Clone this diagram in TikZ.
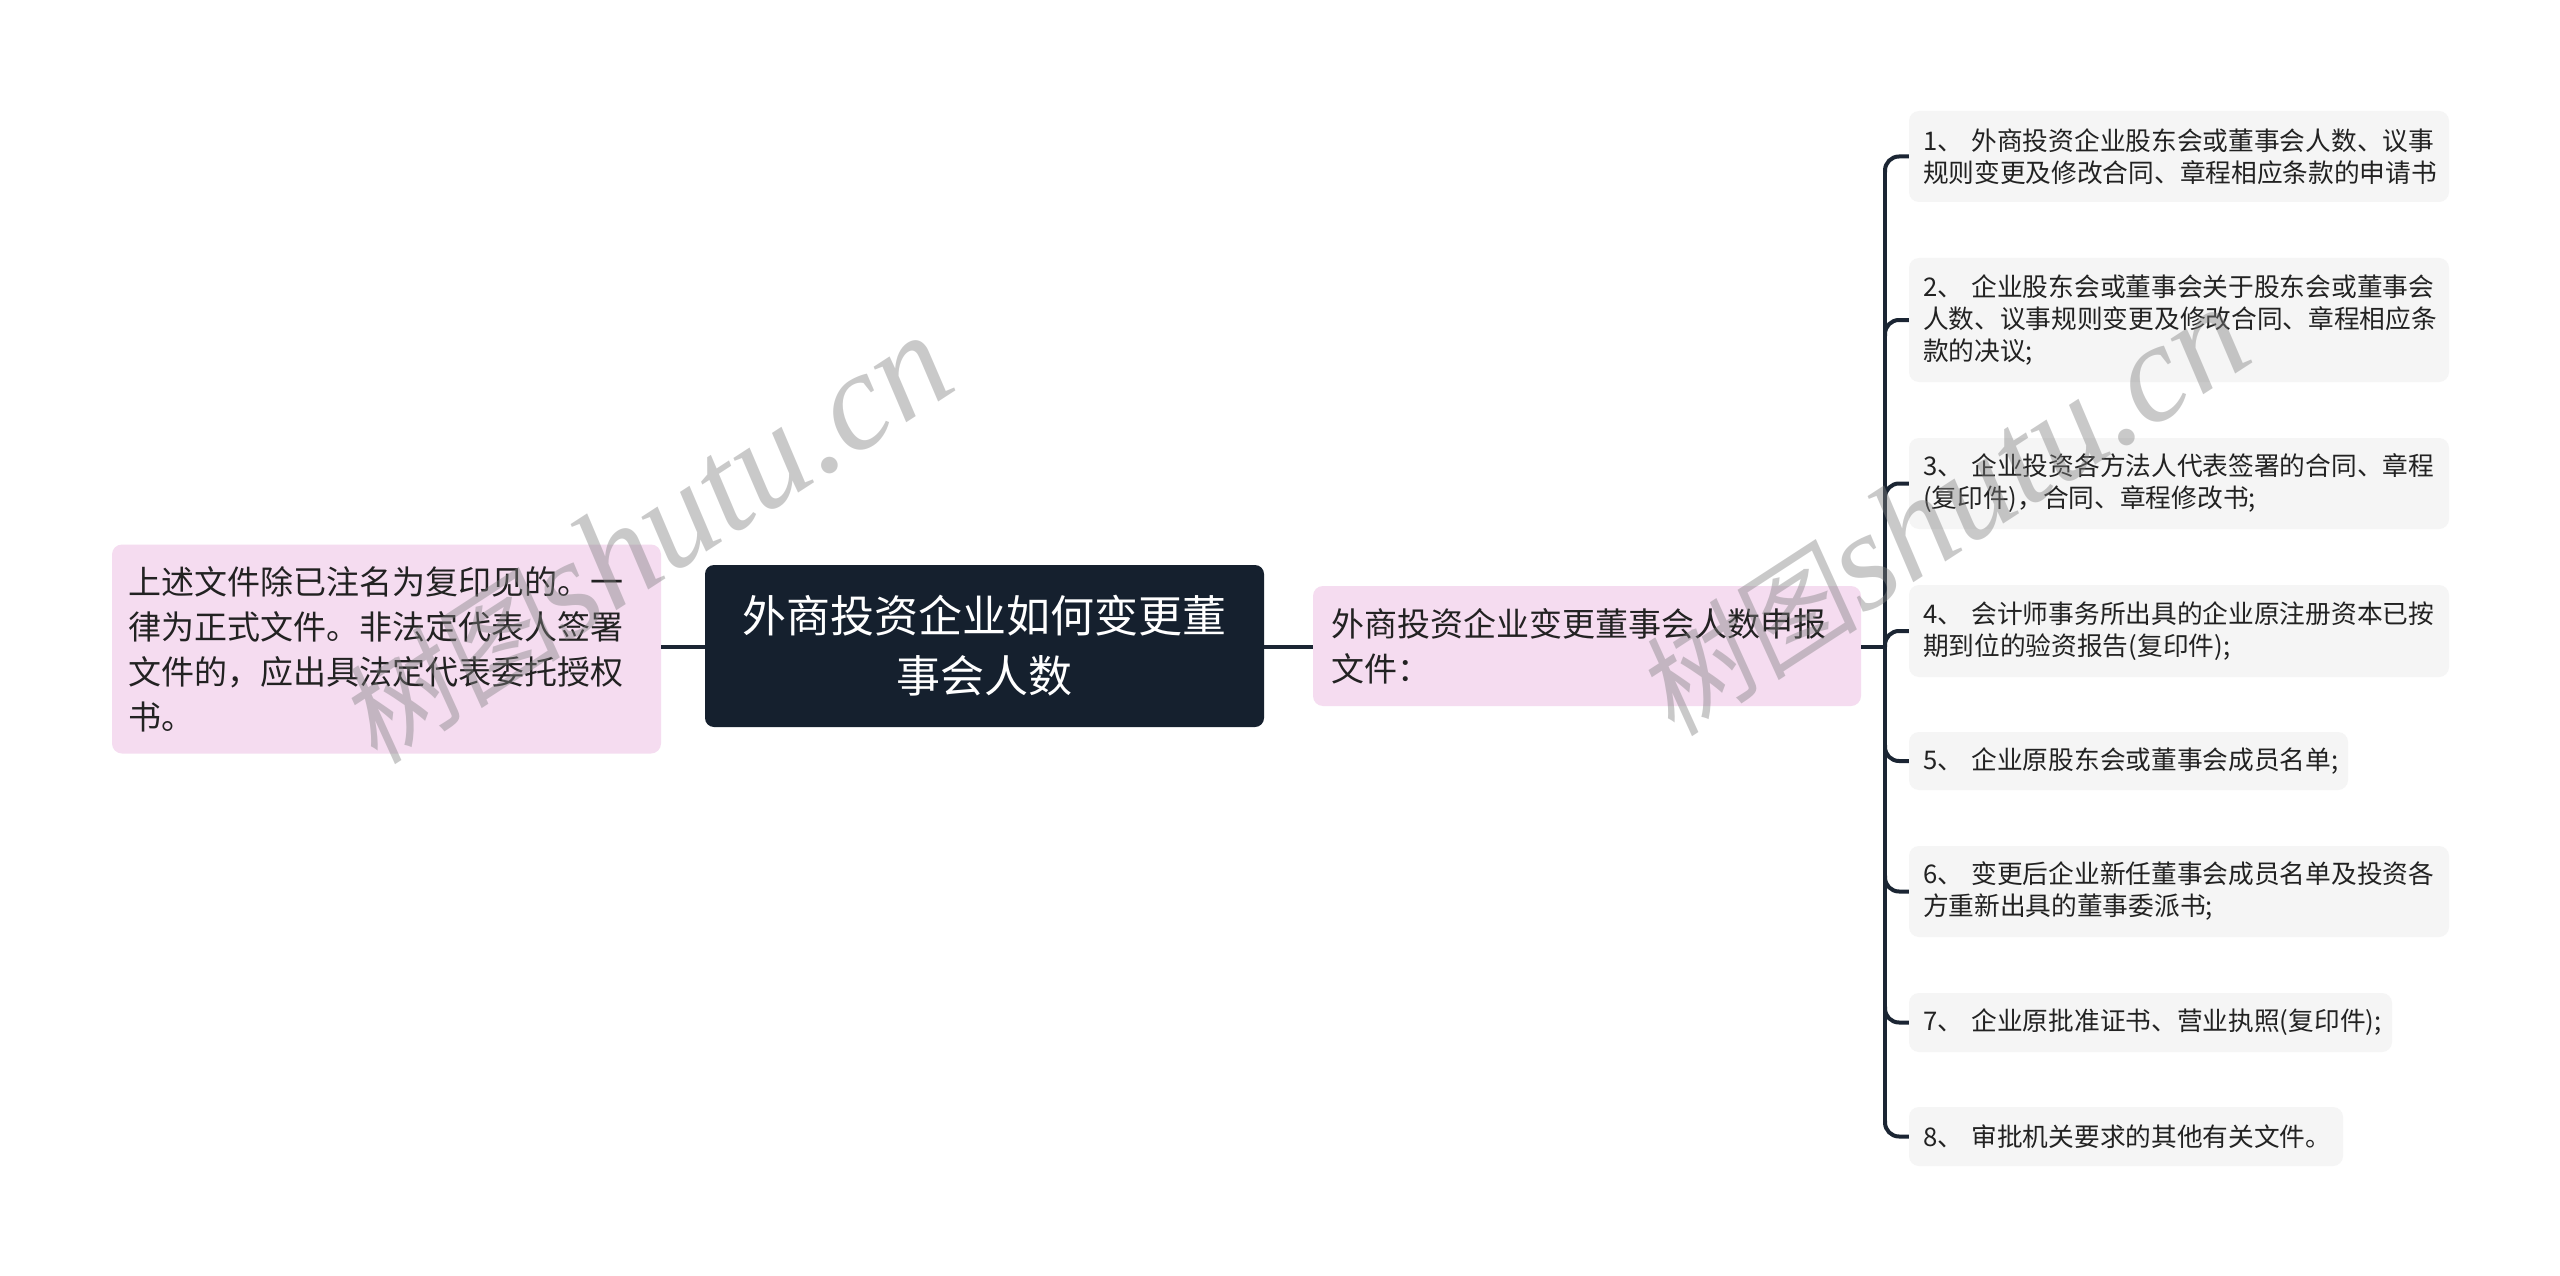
\documentclass[tikz,border=0pt]{standalone}
\usepackage{fontspec}
\setmainfont{Noto Sans CJK SC}
\newfontfamily\wmcjk[FakeSlant=0.15]{Noto Sans CJK SC}
\newfontfamily\wmlat{Liberation Serif}
\usetikzlibrary{calc}
\definecolor{rootfill}{HTML}{15202E}
\definecolor{pinkfill}{HTML}{F5DCF0}
\definecolor{childfill}{HTML}{F5F5F5}
\definecolor{linecol}{HTML}{1B2533}
\definecolor{txt}{HTML}{222222}
\definecolor{wmcol}{HTML}{808080}
\tikzset{
  rootbox/.style={fill=rootfill, rounded corners=9pt, inner xsep=0pt, inner ysep=0pt,
    align=center, text=white, font=\fontsize{44}{60}\selectfont},
  pinkbox/.style={fill=pinkfill, rounded corners=10pt, inner ysep=0pt,
    align=left, text=txt, font=\fontsize{33}{45}\selectfont},
  childbox/.style={fill=childfill, rounded corners=10pt, inner xsep=14pt, inner ysep=0pt,
    align=left, text=txt, font=\fontsize{25.7}{32}\selectfont},
  conn/.style={draw=linecol, line width=3.5pt},
  trunk/.style={draw=linecol, line width=4pt},
  branch/.style={draw=linecol, line width=4pt, rounded corners=14pt},
  wm/.style={text=wmcol, opacity=0.42, rotate=33, inner sep=0pt}
}
\begin{document}
\begin{tikzpicture}[x=1pt,y=-1pt]
\useasboundingbox[fill=white] (0,0) rectangle (2560,1276);

% main nodes
\node[pinkbox, inner xsep=16pt, text width=517pt, minimum height=209pt] (L) at (386.5,649) {上述文件除已注名为复印见的。一\\律为正式文件。非法定代表人签署\\文件的，应出具法定代表委托授权\\书。};
\node[rootbox, text width=559pt, minimum height=162pt] (R) at (984.5,646) {外商投资企业如何变更董\\事会人数};
\node[pinkbox, inner xsep=18pt, text width=512pt, minimum height=120pt] (M) at (1587,646) {外商投资企业变更董事会人数申报\\文件：};

% children
\node[childbox, text width=512pt, minimum height=91pt] (c1) at (2179,156.5) {1、~外商投资企业股东会或董事会人数、议事\\规则变更及修改合同、章程相应条款的申请书};
\node[childbox, text width=512pt, minimum height=124pt] (c2) at (2179,320) {2、~企业股东会或董事会关于股东会或董事会\\人数、议事规则变更及修改合同、章程相应条\\款的决议;};
\node[childbox, text width=512pt, minimum height=91pt] (c3) at (2179,483.5) {3、~企业投资各方法人代表签署的合同、章程\\(复印件)，合同、章程修改书;};
\node[childbox, text width=512pt, minimum height=92pt] (c4) at (2179,631) {4、~会计师事务所出具的企业原注册资本已按\\期到位的验资报告(复印件);};
\node[childbox, text width=411pt, minimum height=58pt] (c5) at (2128.5,761) {5、~企业原股东会或董事会成员名单;};
\node[childbox, text width=512pt, minimum height=91pt] (c6) at (2179,891.5) {6、~变更后企业新任董事会成员名单及投资各\\方重新出具的董事委派书;};
\node[childbox, text width=455pt, minimum height=59pt] (c7) at (2150.5,1022.5) {7、~企业原批准证书、营业执照(复印件);};
\node[childbox, text width=406pt, minimum height=59pt] (c8) at (2126,1136.5) {8、~审批机关要求的其他有关文件。};

% connectors
\draw[conn] (L.east |- 0,647) -- (R.west |- 0,647);
\draw[conn] (R.east |- 0,647) -- (M.west |- 0,647);
\coordinate (T) at (1885,647);
\draw[conn] (M.east |- T) -- (T);
\draw[trunk] ($(T|-c1.west)+(0,13)$) -- ($(T|-c8.west)+(0,-13)$);
\foreach \k in {1,2,3,4} {
  \draw[branch] ($(T|-c\k.west)+(0,16)$) -- (T|-c\k.west) -- (c\k.west);
}
\foreach \k in {5,6,7,8} {
  \draw[branch] ($(T|-c\k.west)+(0,-16)$) -- (T|-c\k.west) -- (c\k.west);
}

% watermarks
\node[wm] (wm1) at (645,540) {{\wmcjk\fontsize{112}{112}\selectfont 树图}\ {\wmlat\itshape\fontsize{140}{140}\selectfont shutu.cn}};
\node[wm] (wm2) at (1942,512) {{\wmcjk\fontsize{112}{112}\selectfont 树图}\ {\wmlat\itshape\fontsize{140}{140}\selectfont shutu.cn}};
\end{tikzpicture}
\end{document}
